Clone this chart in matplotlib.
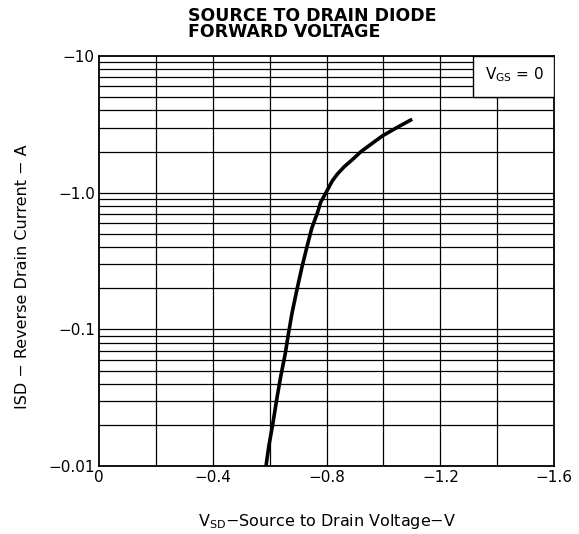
import numpy as np
import matplotlib
matplotlib.use("Agg")
import matplotlib.pyplot as plt
from matplotlib.patches import Rectangle

plt.rcParams['font.family'] = ['DejaVu Sans']
plt.rcParams['mathtext.default'] = 'regular'

# curve (magnitudes)
vsd = [0.587, 0.597, 0.612, 0.625, 0.639, 0.655, 0.666, 0.678, 0.695, 0.713,
       0.730, 0.748, 0.769, 0.779, 0.800, 0.820, 0.838, 0.862, 0.891, 0.921,
       0.958, 0.998, 1.051, 1.101]
isd = [0.01, 0.014, 0.021, 0.031, 0.0455, 0.067, 0.093, 0.130, 0.192, 0.283,
       0.394, 0.55, 0.725, 0.85, 1.02, 1.22, 1.37, 1.55, 1.75, 2.0,
       2.28, 2.62, 3.03, 3.45]

xticks = [0, 0.4, 0.8, 1.2, 1.6]
xlabels = ['0', '\u22120.4', '\u22120.8', '\u22121.2', '\u22121.6']
yticks = [0.01, 0.1, 1.0, 10]
ylabels = ['\u22120.01', '\u22120.1', '\u22121.0', '\u221210']

fig = plt.figure(figsize=(5.79, 5.34), dpi=100)
ax = fig.add_axes([0.171, 0.127, 0.786, 0.768])
ax.set_yscale('log')
ax.set_xlim(0, 1.6)
ax.set_ylim(0.01, 10)

# grid
for v in np.arange(0.2, 1.6, 0.2):
    ax.axvline(v, color='black', lw=0.9, zorder=1)
for dec in [0.01, 0.1, 1.0]:
    for k in range(1, 10):
        if dec * k > 0.01:
            ax.axhline(dec * k, color='black', lw=0.9, zorder=1)

ax.plot(vsd, isd, color='black', lw=2.6, solid_capstyle='butt',
        solid_joinstyle='round', zorder=3)

# VGS box
ax.add_patch(Rectangle((1.315, 5), 0.285, 5, facecolor='white',
                       edgecolor='black', lw=1.0, zorder=4))
ax.text(1.46, 7.3, 'V$_{GS}$ = 0', ha='center', va='center', fontsize=11, zorder=5)

for s in ax.spines.values():
    s.set_linewidth(1.3)

ax.set_xticks(xticks)
ax.set_xticklabels(xlabels, fontsize=11)
ax.set_yticks(yticks)
ax.set_yticklabels(ylabels, fontsize=11)
ax.yaxis.set_minor_locator(matplotlib.ticker.NullLocator())
ax.tick_params(axis='x', length=0, pad=3)
ax.tick_params(axis='y', length=0, pad=3)

ax.set_xlabel('V$_{SD}$\u2212Source to Drain Voltage\u2212V', fontsize=11.5, labelpad=19)
ax.set_ylabel('ISD \u2212 Reverse Drain Current \u2212 A', fontsize=11.5)
ax.yaxis.set_label_coords(-0.152, 0.463)

fig.text(0.325, 0.955, 'SOURCE TO DRAIN DIODE\nFORWARD VOLTAGE', ha='left',
         va='center', fontsize=12.5, fontweight='bold', linespacing=0.88)

fig.savefig('out.png', dpi=100)
